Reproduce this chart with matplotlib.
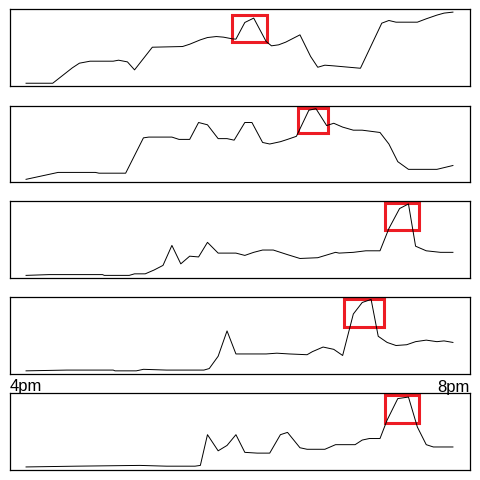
import matplotlib
import matplotlib.pyplot as plt
from matplotlib.patches import Rectangle

matplotlib.use("Agg")

# minutes after 4pm and activity level (0-100) for each panel
t1 = [0, 15, 26, 30, 36, 49, 52, 57, 61, 71, 88, 92, 98, 102, 107, 111, 116, 118, 123, 128,
      135, 138, 142, 146, 154, 160, 164, 168, 173, 188, 200, 204, 208, 220, 225, 231, 235, 240]
v1 = [3.5, 3.5, 23.5, 29.6, 32.2, 32.2, 33.5, 31.3, 20.9, 50.4, 51.3, 54.3, 60, 63, 64.3, 63.5, 61.3, 60.9, 82.6, 88.3,
      57.8, 52.2, 53.5, 57, 66.5, 38.3, 24.3, 27, 26.1, 23, 81.7, 85.2, 83, 83, 87.4, 92.2, 94.8, 96.1]

t2 = [0, 18, 39, 41, 56, 66, 69, 82, 86, 92, 97, 102, 108, 113, 117, 123, 127, 133, 137, 143,
      147, 152, 159, 163, 169, 173, 178, 184, 189, 199, 204, 209, 215, 231, 240]
v2 = [4, 13, 13, 12, 12, 58, 59, 59, 56, 56, 78, 75, 57, 57, 55, 78, 78, 52, 50, 53,
      56, 60, 94, 96, 74, 77, 72, 68, 68, 65, 50, 27, 17, 17, 22]

t3 = [0, 13, 43, 44, 58, 61, 67, 72, 77, 82, 87, 92, 97, 102, 108, 118, 123, 128, 133, 139,
      147, 154, 164, 174, 176, 184, 191, 199, 204, 210, 215, 219, 225, 233, 240]
v3 = [3, 4, 4, 3, 3, 5, 5, 10, 16, 42, 18, 28, 27, 46, 32, 32, 29, 33, 36, 36,
      30, 25, 26, 33, 32, 33, 35, 35, 64, 90, 96, 41, 35, 33, 33]

t4 = [0, 23, 49, 50, 62, 66, 79, 100, 103, 108, 113, 118, 135, 141, 148, 158, 161, 167, 173, 178,
      184, 189, 194, 198, 203, 208, 214, 219, 225, 231, 235, 240]
v4 = [4, 5, 5, 4, 4, 6, 5, 5, 7, 23, 56, 26, 26, 27, 26, 25, 29, 35, 32, 24,
      78, 93, 97, 49, 41, 37, 38, 42, 44, 42, 43, 41]

t5 = [0, 28, 64, 79, 95, 98, 102, 108, 113, 118, 123, 130, 137, 143, 147, 154, 158, 168, 174, 185,
      189, 193, 199, 203, 209, 215, 220, 225, 229, 240]
v5 = [4, 5, 6, 5, 5, 6, 46, 25, 32, 46, 23, 22, 22, 46, 49, 29, 27, 27, 33, 33,
      39, 41, 41, 65, 93, 95, 56, 33, 30, 30]

# highlighted peak window per panel
peak_start = [116, 153, 202, 179, 202]
peak_end = [135.5, 169.5, 221, 201.5, 221]
peak_low = [57.5, 64, 62, 60.5, 61]
peak_high = [92, 97, 97.5, 98, 97.5]

start_label = "4pm"
end_label = "8pm"

series = [(t1, v1), (t2, v2), (t3, v3), (t4, v4), (t5, v5)]
bottoms = [0.821, 0.620, 0.4215, 0.221, 0.0208]

fig = plt.figure(figsize=(4.8, 4.8), dpi=100)

for i, (t, v) in enumerate(series):
    ax = fig.add_axes([0.0198, bottoms[i], 0.959, 0.160])
    ax.plot(t, v, color="black", linewidth=0.7)
    ax.add_patch(Rectangle((peak_start[i], peak_low[i]),
                           peak_end[i] - peak_start[i],
                           peak_high[i] - peak_low[i],
                           fill=False, edgecolor="#ed1c24", linewidth=2.2))
    ax.set_xlim(-9.3, 249.5)
    ax.set_ylim(0, 100)
    ax.set_xticks([])
    ax.set_yticks([])
    for s in ax.spines.values():
        s.set_linewidth(0.9)

fig.text(10 / 480, 1 - 391 / 480, start_label, ha="left", va="baseline",
         fontsize=12, family="Liberation Sans")
fig.text(470 / 480, 1 - 392 / 480, end_label, ha="right", va="baseline",
         fontsize=12, family="Liberation Sans")

plt.savefig("out.png", dpi=100)
